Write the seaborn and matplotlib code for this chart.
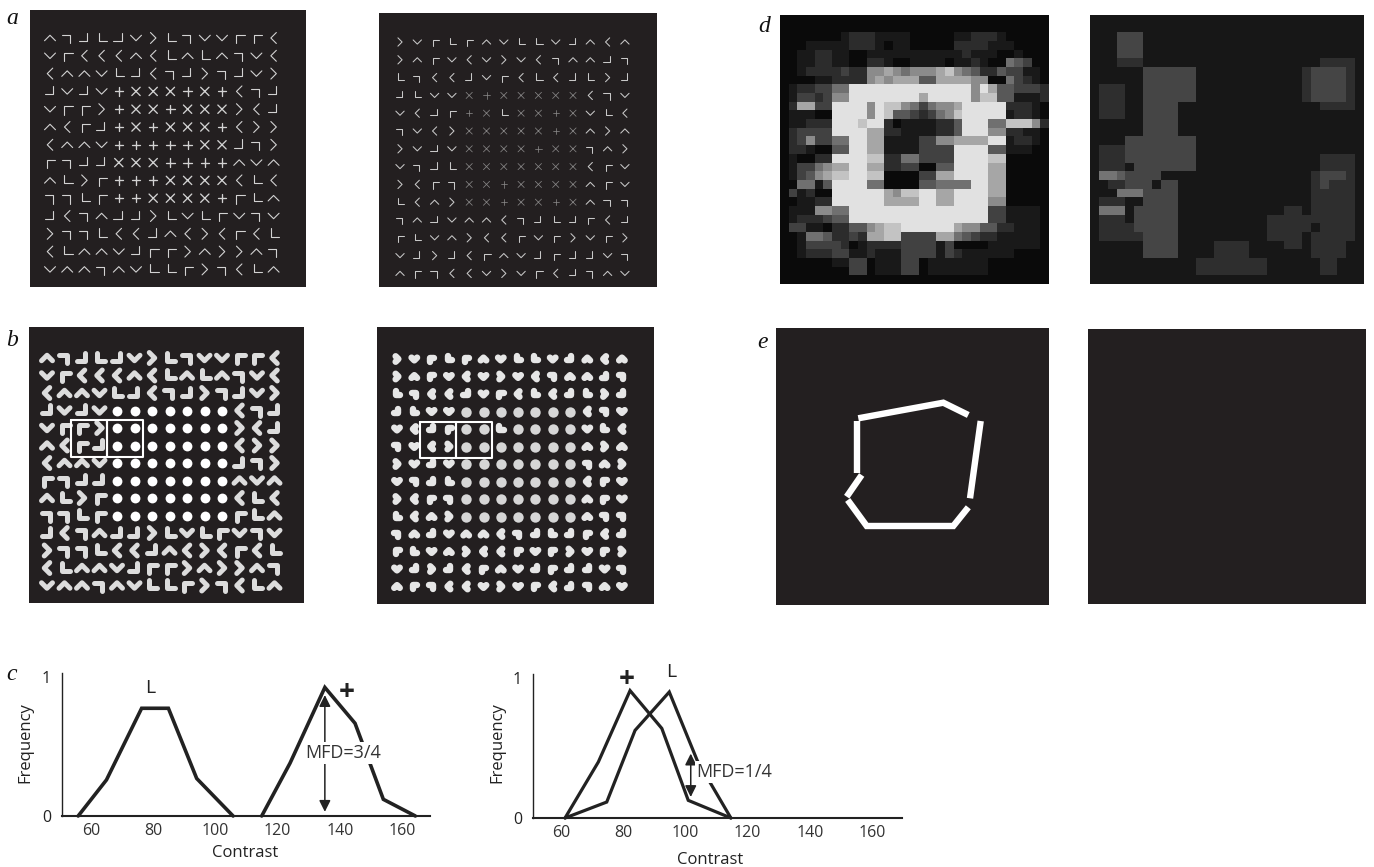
import numpy as np
import pandas as pd
import matplotlib
matplotlib.use("Agg")
import matplotlib.pyplot as plt
from matplotlib.colors import PowerNorm, Normalize
from matplotlib.path import Path
import seaborn as sns

W, H = 1374, 867
sns.set_theme(style="white")
plt.rcParams['font.family'] = ['Open Sans', 'DejaVu Sans']

# ---------- data: texture element at each grid cell ----------
ROWS_LEFT = ["^7JLJv>L7vvrr<", "vr<<<^<L^L^7v<", "<^^vLJ<7J>7Jv>", "JvJv+xxx+x+<7J",
             "vrr>+xx+xxx><J", "^<rJ+x+xxx+<>>", "<^^v+++++xxJ7>", "r7JJxxx++++^v^",
             "^L>r+++xxxx<L<", "77Lr++xxxx+rL^", "J<7^JJ>LvLrv7v", ">77L<<J^<><r<L",
             "<L^^vJrr>^>>^7", "v^^7^vLLr>7<L^"]
ROWS_RIGHT = [">vrLr^vLLvJ^<^", ">^rv<v>v<7^^J7", "L7<<Jvr<L<JL>J", "JLvvx+xxxxx<7v",
              "v<Jr+xLxx+xvL<", "7v<>xxxxx+x^>^", ">vJvxxxx+xx7^>", "v7JLxxxxxxx<rv",
              "><r7xx+xxxx^rv", "L<^>xx+xx+x^77", "7^Jv^^<7JLJr<J", "rLv^><<rvr>vr>",
              "vJ>J<r^vJrJJv7", "^r7<<v>vr<J7^v"]

# ---------- data: line plots in panel c ----------
C1_L_X = [55.9, 65, 76.3, 84.9, 94, 105.7]
C1_L_Y = [0, .26, .775, .775, .27, 0]
C1_P_X = [114.9, 124, 135.2, 144.9, 154, 164.3]
C1_P_Y = [0, .38, .925, .667, .12, 0]
C2_P_X = [61.3, 72, 82.2, 92.4, 100.9, 114.6]
C2_P_Y = [0, .40, .91, .64, .126, 0]
C2_L_X = [61.3, 74.7, 83.8, 94.8, 103.8, 114.6]
C2_L_Y = [0, .114, .626, .90, .41, 0]
X_TICKS = [60, 80, 100, 120, 140, 160]

# ---------- data: grey levels in panel d ----------
D_LEFT = [
    "0" * 31, "0" * 31,
    "0000000122211110000011222100000", "0001111122210110000022221110000",
    "0011221100111111111112111001000", "0011221100221001111011210054300",
    "0012222322667656667865422433110", "0000112222676777447777660053210",
    "0122335599999999999999697443332", "0133236699999999799999688441112",
    "0277339999698865356679999922210", "0111009999698443235689999912210",
    "0112229998992011112249995588862", "0233339999772211112249996622110",
    "0236335599771111336677779912210", "0221004499771111333399994411100",
    "0100229999882255333399998800000", "0133567799772233004499997700000",
    "0134678899880000337799997700000", "0055149999550000445555997700000",
    "0312009999997688997799997700000", "0011229999997777997799996600000",
    "0111665599999999999999993311110", "0122234499999999999999993311110",
    "0331102244678899999976644221110", "0015542232778833337754322111110",
    "0013333201222233331300001111110", "0012223311211133331321111110000",
    "0000001133011133011111110000000", "0000000033011133011111110000000",
    "0" * 31]
Z = "0" * 12
D_RIGHT = [
    "0" * 31, "0" * 31, "000222" + "0" * 25, "000222" + "0" * 25, "000222" + "0" * 25,
    "000111" + "0" * 19 + "011110",
    "000000222222" + Z + "1222210", "000000222222" + Z + "1222210",
    "011100222222" + Z + "1222210", "011100222222" + Z + "1222210",
    "011100222200" + Z + "0011110", "011100222200" + Z + "0000000",
    "000000222200" + Z + "0000000", "000000222200" + Z + "0000000",
    "000022222222" + Z + "0000000", "011122222222" + Z + "0000000",
    "011122222222" + Z + "0011110", "011102222222" + Z + "0011110",
    "044322220000" + Z + "0122210", "001122202200" + Z + "0121110",
    "000444222200" + Z + "0111110", "011100222200" + Z + "0111110",
    "044402222200" + "0" * 10 + "11" + "0111110",
    "011102222200" + "0" * 8 + "1111" + "1111110",
    "011112222200" + "0" * 8 + "1111" + "1011110",
    "011111222200" + "0" * 8 + "1111" + "0111110",
    "000000222200" + "00111100" + "0011" + "0111100",
    "000000222200" + "00111100" + "0000" + "0111100",
    "000000000000" + "11111111" + "0000" + "0011000",
    "000000000000" + "11111111" + "0000" + "0011000",
    "0" * 31]

# ---------- data: contour segments in panel e ----------
E_SEGMENTS = [
    ([82.3, 167.3, 192.3], [90.3, 74.7, 87.0]),
    ([204.7, 194.0], [93.0, 170.3]),
    ([192.3, 177.3, 90.7, 71.7], [179.3, 198.0, 198.0, 172.0]),
    ([70.7, 85.7], [168.7, 147.0]),
    ([81.3, 81.3], [144.7, 92.7]),
]

# ---------- figure helpers ----------
fig = plt.figure(figsize=(W / 100, H / 100), dpi=100, facecolor="white")
PANEL = "#231f20"


def add_axes(x0, y0, x1, y1):
    ax = fig.add_axes([x0 / W, 1 - y1 / H, (x1 - x0) / W, (y1 - y0) / H])
    return ax


def panel(x0, y0, x1, y1):
    ax = add_axes(x0, y0, x1, y1)
    ax.set_facecolor(PANEL)
    ax.set_xticks([])
    ax.set_yticks([])
    for s in ax.spines.values():
        s.set_visible(False)
    return ax


def glyph(*strokes):
    verts, codes = [], []
    for st in strokes:
        for i, p in enumerate(st):
            verts.append(p)
            codes.append(Path.MOVETO if i == 0 else Path.LINETO)
    return Path(verts, codes)


GLYPHS = {
    "^": glyph([(-1, -.5), (0, .5), (1, -.5)]),
    "v": glyph([(-1, .5), (0, -.5), (1, .5)]),
    "<": glyph([(.5, 1), (-.5, 0), (.5, -1)]),
    ">": glyph([(-.5, 1), (.5, 0), (-.5, -1)]),
    "L": glyph([(-.5, 1), (-.5, -.5), (1, -.5)]),
    "r": glyph([(-.5, -1), (-.5, .5), (1, .5)]),
    "7": glyph([(-1, .5), (.5, .5), (.5, -1)]),
    "J": glyph([(-1, -.5), (.5, -.5), (.5, 1)]),
    "+": glyph([(0, -1), (0, 1)], [(-1, 0), (1, 0)]),
    "x": glyph([(-.72, -.72), (.72, .72)], [(-.72, .72), (.72, -.72)]),
}


def long_form(rows):
    rec = [(c, r, g) for r, row in enumerate(rows) for c, g in enumerate(row)]
    return pd.DataFrame(rec, columns=["col", "row", "glyph"])


def texture(box, origin, step, rows, s, lw, color, cs=None, clw=None, calpha=1.0,
            dots=None):
    ax = panel(*box)
    df = long_form(rows)
    for g, sub in df.groupby("glyph"):
        centre = g in "+x"
        if centre and dots is not None:
            sns.scatterplot(data=sub, x="col", y="row", marker="o", s=dots[0],
                            color=dots[1], linewidth=0, ax=ax, legend=False)
            continue
        sns.scatterplot(data=sub, x="col", y="row", marker=GLYPHS[g],
                        s=cs if centre else s,
                        facecolor="none", edgecolor=color,
                        linewidth=clw if centre else lw,
                        alpha=calpha if centre else 1.0,
                        capstyle="round", joinstyle="round", ax=ax, legend=False)
    ax.set_xlim((box[0] - origin[0]) / step[0], (box[2] - origin[0]) / step[0])
    ax.set_ylim((box[3] - origin[1]) / step[1], (box[1] - origin[1]) / step[1])
    ax.set_xlabel("")
    ax.set_ylabel("")
    return ax


def boxes(ax, xs, y0, y1):
    for a, b in zip(xs[:-1], xs[1:]):
        ax.plot([a, b, b, a, a], [y0, y0, y1, y1, y0], color="white", lw=1.5, zorder=5)


# ---------- panels a ----------
texture((30, 10, 306, 287), (50, 38), (17.2, 17.8), ROWS_LEFT, 62, .8, "#d2d2d2",
        cs=36, clw=.95)
texture((379, 13, 657, 287), (400, 42), (17.3, 17.8), ROWS_RIGHT, 36, .75, "#c8c8c8",
        cs=20, clw=.55, calpha=.6)

# ---------- panels b ----------
ax = texture((29, 327, 304, 603), (47, 358), (17.5, 17.5), ROWS_LEFT, 62, 3.6, "#dcdcdc",
             dots=(50, "white"))
boxes(ax, [1.37, 3.41, 5.5], 3.54, 5.64)
ax = texture((377, 327, 654, 604), (397, 359), (17.3, 17.5), ROWS_RIGHT, 16, 4.6, "#e6e6e6",
             dots=(56, "#d6d6d6"))
boxes(ax, [1.33, 3.41, 5.52], 3.58, 5.64)


# ---------- panels d ----------
def heat(box, rows, norm):
    ax = panel(*box)
    mat = np.array([[int(ch) for ch in r.ljust(31, "0")[:31]] for r in rows])
    sns.heatmap(mat, norm=norm, cmap="gray", cbar=False, ax=ax,
                xticklabels=False, yticklabels=False, linewidths=0, rasterized=True)
    ax.set_facecolor(PANEL)


heat((780, 15, 1049, 284), D_LEFT, PowerNorm(1.35, vmin=-1, vmax=10))
heat((1090, 15, 1364, 284), D_RIGHT, Normalize(vmin=-1, vmax=10))

# ---------- panels e ----------
ax = panel(776, 328, 1049, 605)
for xs, ys in E_SEGMENTS:
    sns.lineplot(x=xs, y=ys, sort=False, estimator=None, color="white", linewidth=4.6,
                 solid_capstyle="butt", solid_joinstyle="miter", ax=ax)
ax.set_xlim(0, 273)
ax.set_ylim(277, 0)
panel(1088, 329, 1366, 604)

# ---------- panels c ----------
DARK = "#222222"


def line_panel(box, y_per_unit, series, lw, tick_pad, label_xy, ylab_x):
    ax = add_axes(*box)
    ax.patch.set_alpha(0)
    for xs, ys in series:
        sns.lineplot(x=xs, y=ys, sort=False, estimator=None, color=DARK, linewidth=lw,
                     solid_joinstyle="miter", clip_on=False, ax=ax, zorder=3)
    ax.set_ylim(0, (box[3] - box[1]) / y_per_unit)
    ax.set_xticks(X_TICKS)
    ax.set_xticklabels([str(t) for t in X_TICKS], fontsize=11.5, color="#333333")
    ax.set_yticks([0, 1])
    ax.set_yticklabels(["0", "1"], fontsize=11.5, color="#222222")
    ax.tick_params(axis="x", length=0, pad=tick_pad)
    ax.tick_params(axis="y", length=0, pad=8)
    sns.despine(ax=ax)
    ax.spines["left"].set_linewidth(1.0)
    ax.spines["left"].set_color(DARK)
    ax.spines["bottom"].set_linewidth(1.5)
    ax.spines["bottom"].set_color(DARK)
    fig.text(label_xy[0] / W, 1 - label_xy[1] / H, "Contrast", fontsize=12, color="#222222",
             ha="center", va="center")
    fig.text(ylab_x / W, 1 - 743 / H, "Frequency", fontsize=12, color="#222222",
             rotation=90, ha="center", va="center")
    return ax


def mfd(ax, x, y0, y1, txt, tx, ty):
    ax.annotate("", xy=(x, y0), xytext=(x, y1), zorder=4,
                arrowprops=dict(arrowstyle="<|-|>", color=DARK, lw=1.1, mutation_scale=17,
                                shrinkA=0, shrinkB=0))
    ax.text(tx, ty, txt, fontsize=13, color="#333333", ha="center", va="center", zorder=6,
            bbox=dict(facecolor="white", edgecolor="none", pad=1.5))


ax = line_panel((62, 673, 430, 816), 139, [(C1_L_X, C1_L_Y), (C1_P_X, C1_P_Y)], 2.6,
                5, (245, 853), 25)
ax.set_xlim(50.7, 169)
mfd(ax, 135.2, .87, .03, "MFD=3/4", 141.2, .455)
ax.text(79, .92, "L", fontsize=14, color=DARK, ha="center", va="center")
ax.text(142.3, .89, "+", fontsize=20, fontweight="bold", color=DARK, ha="center", va="center")

ax = line_panel((533, 674, 902, 818), 140, [(C2_L_X, C2_L_Y), (C2_P_X, C2_P_Y)], 2.3,
                5, (710, 860), 497)
ax.set_xlim(51, 169.6)
mfd(ax, 101.7, .46, .15, "MFD=1/4", 115.8, .33)
ax.text(95.5, 1.04, "L", fontsize=14, color=DARK, ha="center", va="center")
ax.text(81, .99, "+", fontsize=20, fontweight="bold", color=DARK, ha="center", va="center")

# ---------- panel letters ----------
for letter, px, py in [("a", 12, 18), ("b", 12, 340), ("c", 12, 675), ("d", 764, 27), ("e", 763, 342)]:
    fig.text(px / W, 1 - py / H, letter, fontsize=17, style="italic", color="#111111",
             family="Liberation Serif", ha="center", va="center")

fig.savefig("out.png", dpi=100, facecolor="white")
